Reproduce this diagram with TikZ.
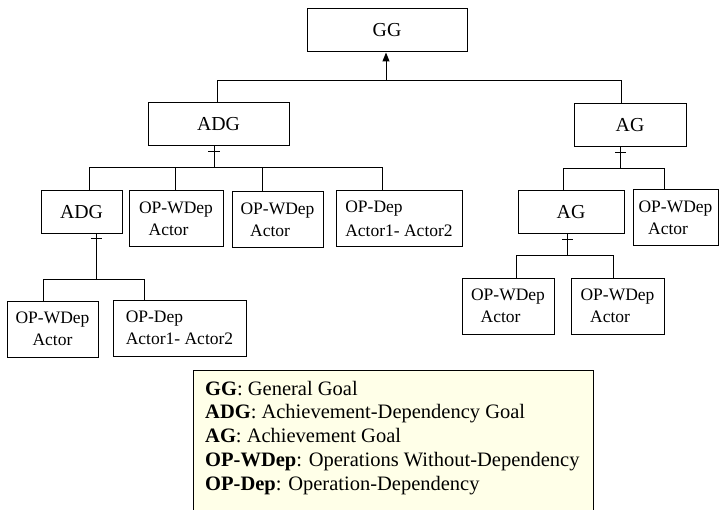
\documentclass[tikz,border=0pt]{standalone}
\usepackage{fontspec}
\setmainfont{Liberation Serif}
\usetikzlibrary{arrows.meta}
\definecolor{legfill}{RGB}{255,255,232}
\tikzset{
  box/.style={draw=black, line width=1pt, inner sep=0pt, fill=white},
  big/.style={box, font=\fontsize{19.8}{23}\selectfont},
  op/.style={box, font=\fontsize{17.5}{21.5}\selectfont, align=left},
  opc/.style={box, font=\fontsize{17.5}{21.5}\selectfont, align=center},
  conn/.style={line width=1pt, black},
  tick/.style={line width=1pt, black},
  leg/.style={anchor=base west, inner sep=0pt, font=\fontsize{20.5}{24}\selectfont},
}
\begin{document}
\begin{tikzpicture}[x=1pt,y=-1pt]
\useasboundingbox (0,0) rectangle (719,510);
% nodes
\node[big, minimum width=160pt, minimum height=43pt] (gg) at (387,30.5) {GG};
\node[big, minimum width=141pt, minimum height=43pt] (adg) at (218.5,124.5) {ADG};
\node[big, minimum width=112pt, minimum height=43pt] (ag) at (630,125.5) {AG};
\node[big, minimum width=81pt, minimum height=43pt] (adg2) at (81.5,212.5) {ADG};
\node[op, minimum width=94pt, minimum height=56pt] (opw1) at (176,219) {OP-WDep\\\hspace*{0.55em}Actor};
\node[op, minimum width=91pt, minimum height=56pt] (opw2) at (277.5,220) {OP-WDep\\\hspace*{0.55em}Actor};
\node[op, minimum width=126pt, minimum height=56pt] (opd1) at (399,219) {OP-Dep\\[2pt]Actor1- Actor2};
\node[opc, minimum width=91pt, minimum height=56pt] (opw3) at (52.5,329) {OP-WDep\\Actor};
\node[op, minimum width=133pt, minimum height=56pt] (opd2) at (179.5,328) {OP-Dep\\Actor1- Actor2};
\node[big, minimum width=106pt, minimum height=43pt] (ag2) at (571,212.5) {AG};
\node[op, minimum width=85pt, minimum height=56pt] (opw4) at (675.5,218) {OP-WDep\\\hspace*{0.55em}Actor};
\node[op, minimum width=92pt, minimum height=56pt] (opw5) at (508,306) {OP-WDep\\\hspace*{0.55em}Actor};
\node[op, minimum width=93pt, minimum height=56pt] (opw6) at (617.5,306) {OP-WDep\\\hspace*{0.55em}Actor};
% junction coordinates
\coordinate (j0) at (386,81);
\coordinate (j0l) at (217,81);
\coordinate (j0r) at (621,81);
\coordinate (j1) at (214,168);
\coordinate (j1l) at (89,168);
\coordinate (j1r) at (382,168);
\coordinate (j1a) at (175,168);
\coordinate (j1b) at (262,168);
\coordinate (j2) at (96,279);
\coordinate (j2l) at (43,279);
\coordinate (j2r) at (144,279);
\coordinate (j3) at (620,169);
\coordinate (j3l) at (563,169);
\coordinate (j3r) at (664,169);
\coordinate (j4) at (567,256);
\coordinate (j4l) at (516,256);
\coordinate (j4r) at (613,256);
% top level
\draw[conn, -{Triangle[width=7pt,length=9pt]}] (j0) -- (j0|-gg.south);
\draw[conn] (j0l|-adg.north) -- (j0l) -- (j0r) -- (j0r|-ag.north);
% ADG children
\draw[conn] (j1|-adg.south) -- (j1);
\draw[tick] (208,152) -- (220,152);
\draw[conn] (j1l|-adg2.north) -- (j1l) -- (j1r) -- (j1r|-opd1.north);
\draw[conn] (j1a) -- (j1a|-opw1.north);
\draw[conn] (j1b) -- (j1b|-opw2.north);
% ADG2 children
\draw[conn] (j2|-adg2.south) -- (j2);
\draw[tick] (91,239) -- (102,239);
\draw[conn] (j2l|-opw3.north) -- (j2l) -- (j2r) -- (j2r|-opd2.north);
% AG children
\draw[conn] (j3|-ag.south) -- (j3);
\draw[tick] (615,153) -- (626,153);
\draw[conn] (j3l|-ag2.north) -- (j3l) -- (j3r) -- (j3r|-opw4.north);
% AG2 children
\draw[conn] (j4|-ag2.south) -- (j4);
\draw[tick] (562,240) -- (573,240);
\draw[conn] (j4l|-opw5.north) -- (j4l) -- (j4r) -- (j4r|-opw6.north);
% legend
\fill[legfill] (193,370) rectangle (593,512);
\draw[line width=1pt] (193,512) -- (193,370) -- (593,370) -- (593,512);
\node[leg] (l1) at (205,395) {\textbf{GG}: General Goal};
\node[leg] (l2) at (205,418) {\textbf{ADG}: Achievement-Dependency Goal};
\node[leg] (l3) at (205,442) {\textbf{AG}: Achievement Goal};
\node[leg] (l4) at (205,466) {\textbf{OP-WDep}: Operations Without-Dependency};
\node[leg] (l5) at (205,490) {\textbf{OP-Dep}: Operation-Dependency};
\end{tikzpicture}
\end{document}
